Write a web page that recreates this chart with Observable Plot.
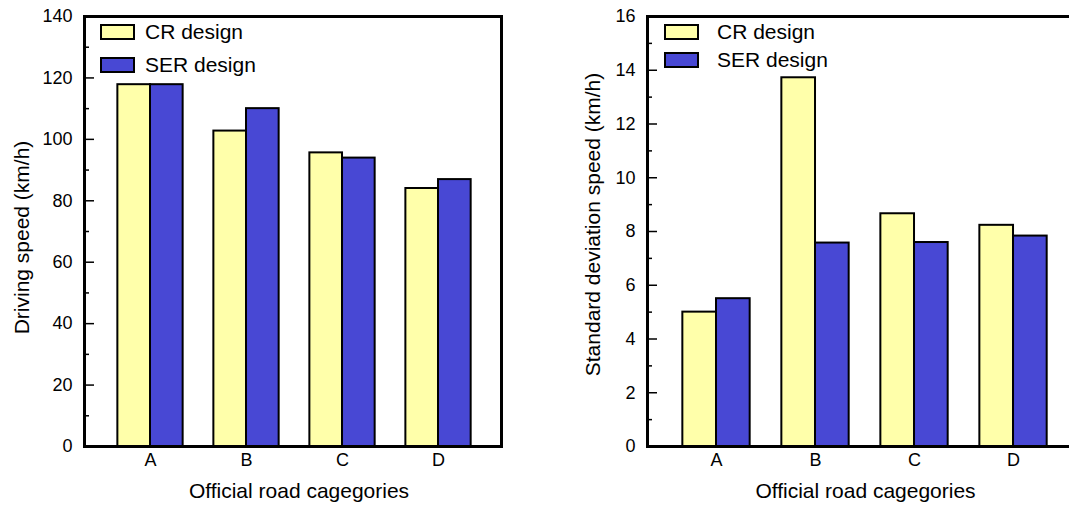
<!DOCTYPE html>
<html>
<head>
<meta charset="utf-8">
<script src="https://cdn.jsdelivr.net/npm/d3@7"></script>
<script src="https://cdn.jsdelivr.net/npm/@observablehq/plot@0.6"></script>
<style>
  html, body { margin: 0; padding: 0; background: #fff; }
  body { width: 1069px; height: 505px; overflow: hidden; position: relative;
         font-family: Arial, "Liberation Sans", sans-serif; }
  .panel { position: absolute; top: 0; height: 505px; }
  .panel svg { max-width: none !important; }
  .legend { position: absolute; font-size: 21px; color: #000; }
  .legend .sw { position: absolute; box-sizing: border-box; border: 2px solid #000; width: 35px; height: 16px; }
  .legend .lb { position: absolute; line-height: 21px; white-space: nowrap; }
</style>
</head>
<body>
<div id="left" class="panel" style="left:0px; width:540px"></div>
<div id="right" class="panel" style="left:560px; width:530px"></div>
<script>
// ---- data ----
const categories = ["A", "B", "C", "D"];
const seriesNames = ["CR design", "SER design"];
const seriesColors = ["#FFFFAA", "#4848D4"];
const speedCR  = [117.8, 102.7, 95.6, 84.0];
const speedSER = [117.8, 110.0, 93.9, 86.9];
const sdCR  = [5.0, 13.72, 8.66, 8.23];
const sdSER = [5.5, 7.57, 7.59, 7.83];
const speedTicks = [0, 20, 40, 60, 80, 100, 120, 140];
const speedMinor = [10, 30, 50, 70, 90, 110, 130];
const sdTicks = [0, 2, 4, 6, 8, 10, 12, 14, 16];
const sdMinor = [1, 3, 5, 7, 9, 11, 13, 15];

const barW = 0.34;
function rows(cr, ser) {
  const out = [];
  categories.forEach((c, i) => {
    out.push({cat: c, idx: i, series: seriesNames[0], value: cr[i]});
    out.push({cat: c, idx: i, series: seriesNames[1], value: ser[i]});
  });
  return out;
}

function panel({data, yDomain, major, minor, xDomain, width, marginLeft, marginRight, yLabel, yLabelDx, yLabelDy, xLabelDx}) {
  return Plot.plot({
    width, height: 505,
    marginLeft, marginRight, marginTop: 16, marginBottom: 59,
    style: {fontFamily: "Arial, 'Liberation Sans', sans-serif", color: "#000", background: "transparent", overflow: "visible"},
    x: {domain: xDomain},
    y: {domain: yDomain},
    color: {domain: seriesNames, range: seriesColors},
    marks: [
      Plot.rectY(data, {
        x1: d => d.series === seriesNames[0] ? d.idx - barW : d.idx,
        x2: d => d.series === seriesNames[0] ? d.idx : d.idx + barW,
        y1: 0, y2: "value",
        fill: "series", stroke: "#000", strokeWidth: 2
      }),
      Plot.axisX({ticks: categories.map((c, i) => i), tickFormat: i => categories[i], tickSize: 0, tickPadding: 7, fontSize: 18, label: null}),
      Plot.axisY({ticks: major, tickSize: -10, tickPadding: 22, fontSize: 18, strokeWidth: 1.5, label: null}),
      Plot.axisY({ticks: minor, tickSize: -5, tickFormat: () => "", strokeWidth: 1.5, label: null}),
      Plot.frame({stroke: "#000", strokeWidth: 3}),
      Plot.text([yLabel], {text: d => d, frameAnchor: "left", textAnchor: "middle", lineAnchor: "middle", rotate: -90, dx: yLabelDx, dy: yLabelDy, fontSize: 21, fill: "#000"}),
      Plot.text(["Official road cagegories"], {text: d => d, frameAnchor: "bottom", textAnchor: "middle", lineAnchor: "middle", dy: 45, dx: xLabelDx, fontSize: 21, fill: "#000"})
    ]
  });
}

function legend(container, items) {
  const lg = document.createElement("div");
  lg.className = "legend";
  lg.style.left = "0px"; lg.style.top = "0px";
  items.forEach(it => {
    const sw = document.createElement("div");
    sw.className = "sw";
    sw.style.left = it.sx + "px"; sw.style.top = it.sy + "px";
    sw.style.background = it.color;
    const lb = document.createElement("div");
    lb.className = "lb";
    lb.style.left = it.tx + "px"; lb.style.top = (it.sy - 3) + "px";
    lb.textContent = it.name;
    lg.appendChild(sw); lg.appendChild(lb);
  });
  container.appendChild(lg);
}

const left = document.getElementById("left");
left.appendChild(panel({
  data: rows(speedCR, speedSER), yDomain: [0, 140], major: speedTicks, minor: speedMinor,
  xDomain: [-0.6875, 3.656], width: 540, marginLeft: 84, marginRight: 39,
  yLabel: "Driving speed (km/h)", yLabelDx: -62, yLabelDy: 6, xLabelDx: 6
}));
legend(left, [
  {name: seriesNames[0], color: seriesColors[0], sx: 100, sy: 24, tx: 145},
  {name: seriesNames[1], color: seriesColors[1], sx: 100, sy: 57, tx: 145}
]);

const right = document.getElementById("right");
right.appendChild(panel({
  data: rows(sdCR, sdSER), yDomain: [0, 16], major: sdTicks, minor: sdMinor,
  xDomain: [-0.697, 3.626], width: 530, marginLeft: 87, marginRight: 15,
  yLabel: "Standard deviation speed (km/h)", yLabelDx: -54, yLabelDy: -7, xLabelDx: 4
}));
legend(right, [
  {name: seriesNames[0], color: seriesColors[0], sx: 104, sy: 24, tx: 157},
  {name: seriesNames[1], color: seriesColors[1], sx: 104, sy: 52, tx: 157}
]);
</script>
</body>
</html>
